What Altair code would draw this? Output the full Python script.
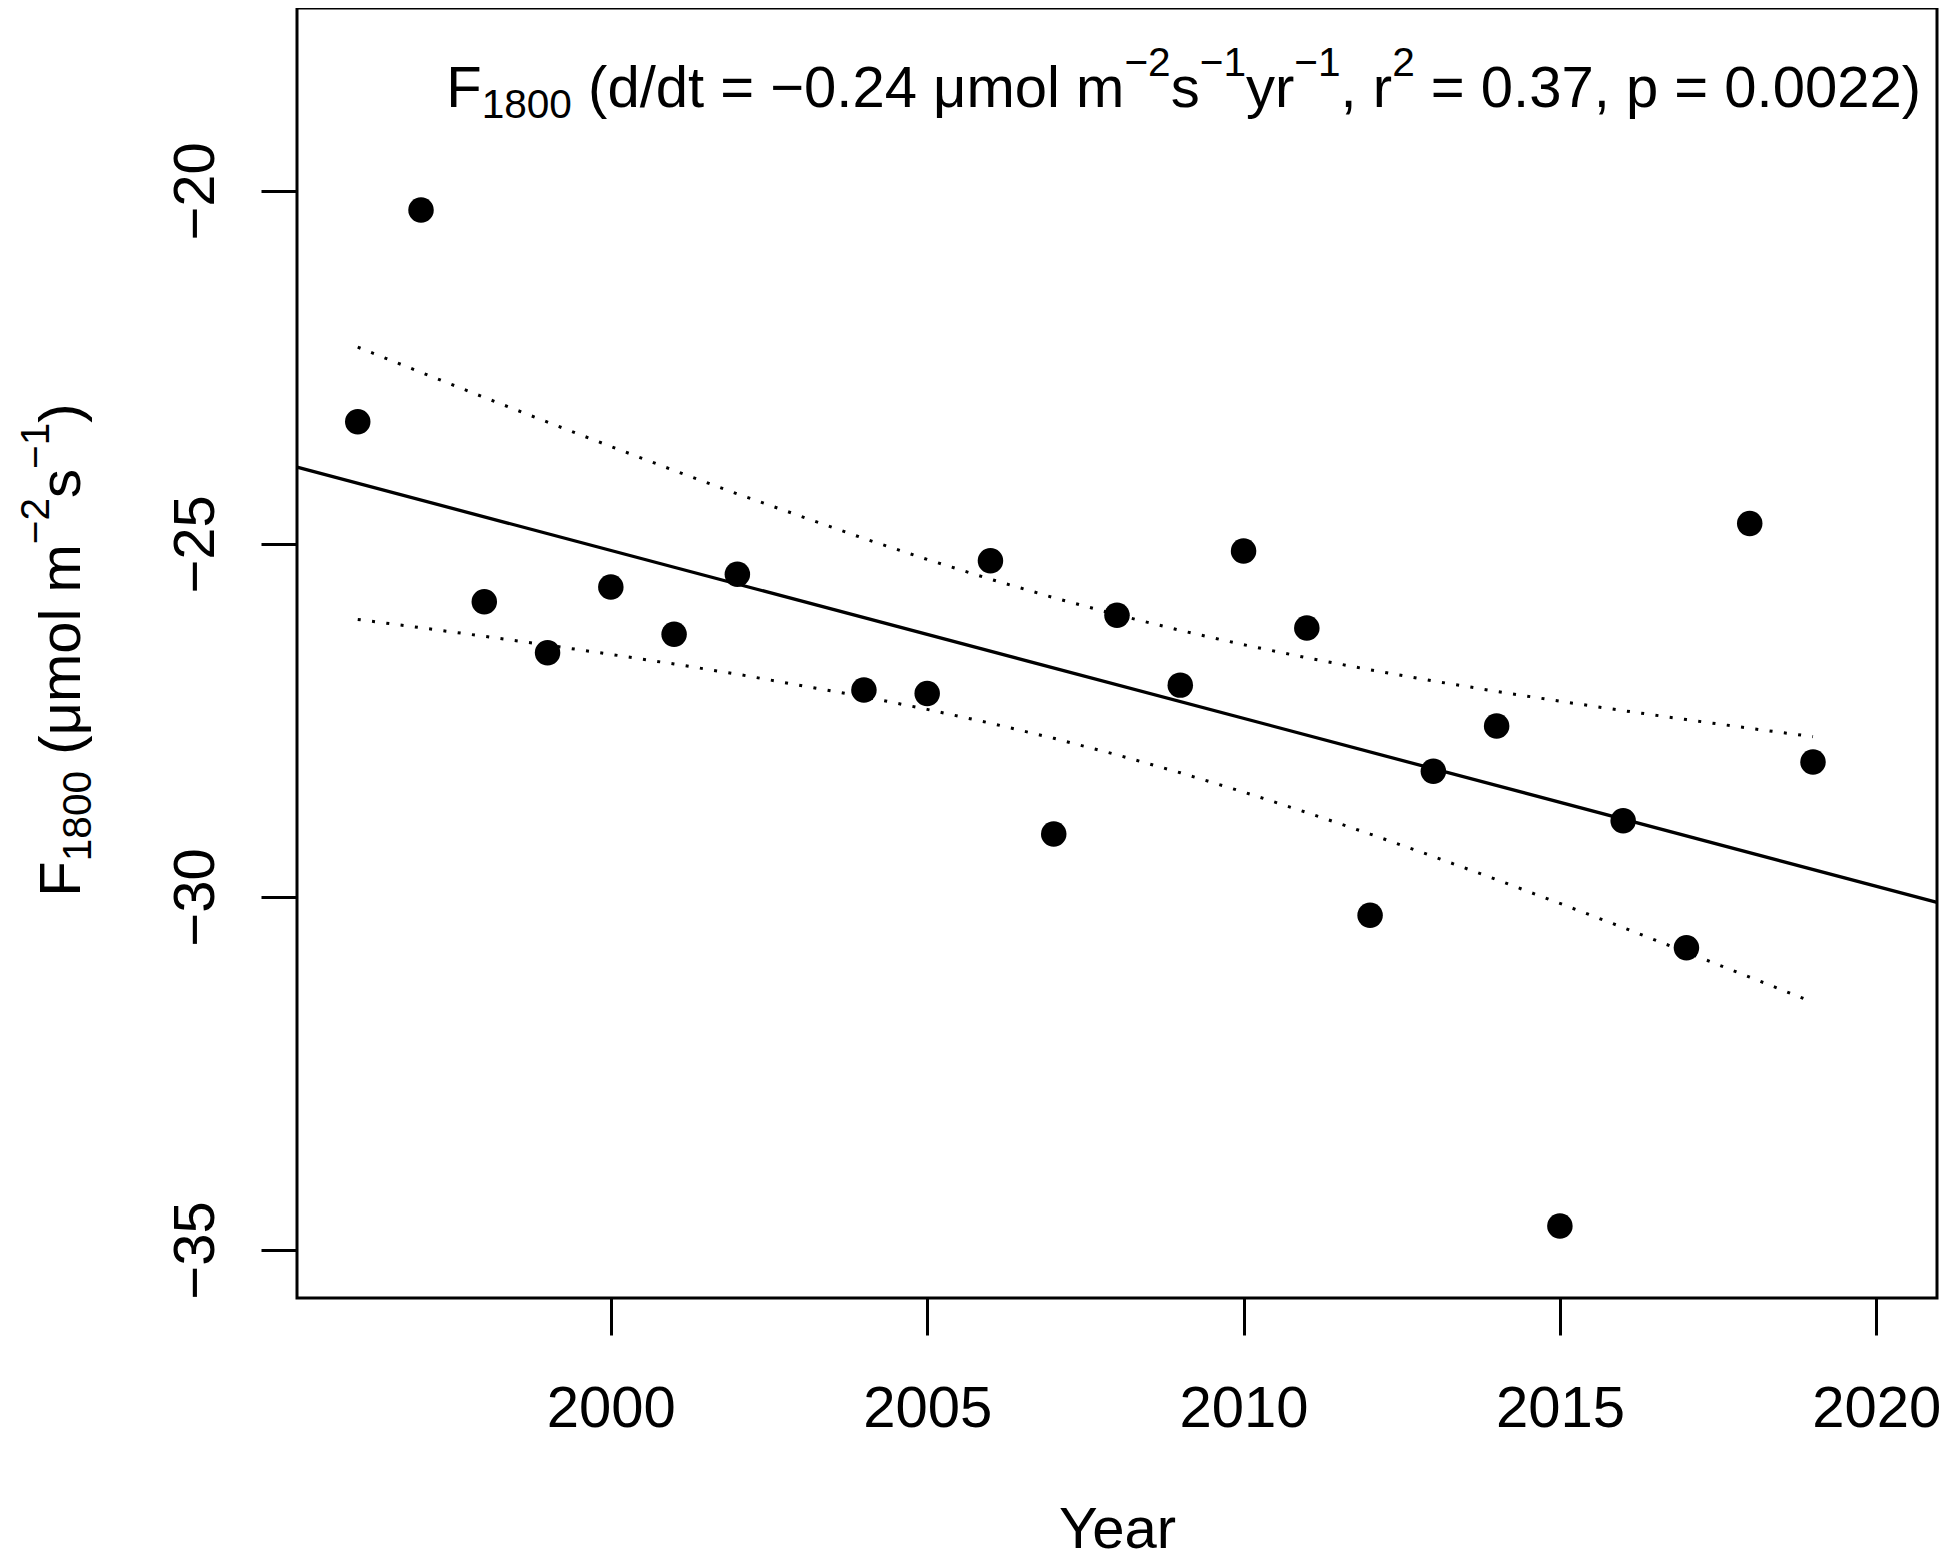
import altair as alt
import pandas as pd
import numpy as np

# ---------------- data ----------------
years = [1996, 1997, 1998, 1999, 2000, 2001, 2002, 2004, 2005, 2006, 2007, 2008,
         2009, 2010, 2011, 2012, 2013, 2014, 2015, 2016, 2017, 2018, 2019]
flux = [-23.27, -20.27, -25.82, -26.54, -25.61, -26.28, -25.43, -27.07, -27.12,
        -25.24, -29.11, -26.01, -27.00, -25.10, -26.19, -30.26, -28.22, -27.58,
        -34.66, -28.92, -30.72, -24.71, -28.09]

x_ticks = [2000, 2005, 2010, 2015, 2020]
y_ticks = [-35, -30, -25, -20]
x_title = "Year"

# rich-text pieces: (kind, text) with kind in normal / sub / sup
annot_parts = [("n", "F"), ("sub", "1800"), ("n", " (d/dt = \u22120.24 \u03bcmol m"),
               ("sup", "\u22122"), ("n", "s"), ("sup", "\u22121"), ("n", "yr"),
               ("sup", "\u22121"), ("n", ", r"), ("sup", "2"),
               ("n", " = 0.37, p = 0.0022)")]
ytitle_parts = [("n", "F"), ("sub", "1800"), ("n", " (\u03bcmol m"), ("sup", "\u22122"),
                ("n", "s"), ("sup", "\u22121"), ("n", ")")]

# ---------------- linear fit and 95% confidence band ----------------
xa = np.array(years, dtype=float)
ya = np.array(flux, dtype=float)
n = len(xa)
xbar, ybar = xa.mean(), ya.mean()
sxx = ((xa - xbar) ** 2).sum()
slope = ((xa - xbar) * (ya - ybar)).sum() / sxx
icpt = ybar - slope * xbar
resid = ya - (icpt + slope * xa)
s = np.sqrt((resid ** 2).sum() / (n - 2))
t975 = 2.0796  # t quantile, 21 df
se = s * np.sqrt(1.0 / n + (xa - xbar) ** 2 / sxx)
fitv = icpt + slope * xa
band_df = pd.concat([
    pd.DataFrame({"year": years, "flux": fitv + t975 * se, "band": "upper"}),
    pd.DataFrame({"year": years, "flux": fitv - t975 * se, "band": "lower"}),
])
pts = pd.DataFrame({"year": years, "flux": flux})

# ---------------- layout / style ----------------
FONT = "Liberation Sans"
FS = 58
SFS = FS * 0.7
W, H = 1640, 1290
XDOM = [1995.04, 2020.96]
YDOM = [-35.68, -17.41]

xenc = alt.X("year:Q",
             scale=alt.Scale(domain=XDOM, nice=False, zero=False),
             axis=alt.Axis(values=x_ticks, format="d", grid=False, domain=False,
                           tickSize=37, tickWidth=3, tickColor="black",
                           labelFont=FONT, labelFontSize=FS, labelColor="black",
                           labelBaseline="alphabetic", labelPadding=91,
                           labelFlush=False, labelOverlap=False,
                           title=x_title, titleFont=FONT, titleFontSize=FS,
                           titleFontWeight="normal", titleColor="black",
                           titleBaseline="alphabetic", titleAlign="center",
                           titleX=W / 2, titleY=249))
yenc = alt.Y("flux:Q",
             scale=alt.Scale(domain=YDOM, nice=False, zero=False),
             axis=alt.Axis(values=y_ticks, grid=False, domain=False,
                           tickSize=36, tickWidth=3, tickColor="black",
                           labelFont=FONT, labelFontSize=FS, labelColor="black",
                           labelAngle=270, labelAlign="center",
                           labelBaseline="alphabetic", labelPadding=48,
                           labelFlush=False, labelOverlap=False,
                           labelExpr="replace(datum.label, '-', '\u2212')",
                           title=None))

band = alt.Chart(band_df).mark_line(
    color="black", strokeWidth=3, strokeDash=[3, 11.4], strokeCap="butt"
).encode(x=xenc, y=yenc, detail="band:N")

fit = alt.Chart(pts).transform_regression(
    "year", "flux", extent=XDOM
).mark_line(color="black", strokeWidth=3.3).encode(x=xenc, y=yenc)

points = alt.Chart(pts).mark_circle(
    size=650, color="black", opacity=1
).encode(x=xenc, y=yenc)

# character advance widths (Arial / Liberation Sans, per 1000 em)
CW = {" ": 278, "(": 333, ")": 333, ",": 278, ".": 278, "/": 278, "=": 584,
      "\u2212": 584, "F": 611, "d": 556, "t": 278, "m": 833, "o": 556, "l": 222,
      "s": 500, "y": 500, "r": 333, "p": 556, "\u03bc": 576}


def seg_w(txt, fs):
    return sum(CW.get(c, 556) for c in txt) / 1000.0 * fs


def size_of(kind):
    return FS if kind == "n" else SFS


def shift_of(kind):
    return {"n": 0.0, "sub": 10.5, "sup": -31.0}[kind]


def split_lead(txt):
    """Leading blanks are dropped by the renderer: turn them into an offset."""
    body = txt.lstrip(" ")
    return txt[: len(txt) - len(body)], body


one = pd.DataFrame({"k": [0]})
texts = []

# top-right annotation (right end near the plot's right edge)
tot = sum(seg_w(t, size_of(k)) for k, t in annot_parts)
cx = 1624 - tot
for k, t in annot_parts:
    fs = size_of(k)
    lead, body = split_lead(t)
    cx += seg_w(lead, fs)
    texts.append(alt.Chart(one).mark_text(
        text=body, font=FONT, fontSize=fs, align="left", baseline="alphabetic",
        color="black").encode(x=alt.value(cx), y=alt.value(99 + shift_of(k))))
    cx += seg_w(body, fs)

# rotated y-axis title, centred on the plot
tot = sum(seg_w(t, size_of(k)) for k, t in ytitle_parts)
cy = 642 + tot / 2
for k, t in ytitle_parts:
    fs = size_of(k)
    lead, body = split_lead(t)
    cy -= seg_w(lead, fs)
    texts.append(alt.Chart(one).mark_text(
        text=body, font=FONT, fontSize=fs, align="left", baseline="alphabetic",
        angle=270, color="black").encode(x=alt.value(-217 + shift_of(k)),
                                         y=alt.value(cy)))
    cy -= seg_w(body, fs)

chart = alt.layer(band, fit, points, *texts).properties(
    width=W, height=H,
    autosize=alt.AutoSizeParams(type="none"),
    padding={"left": 289, "top": 0, "right": 5, "bottom": 262},
    background="white",
).configure(
    font=FONT,
    view=alt.ViewConfig(stroke="black", strokeWidth=3),
)

chart.save("out.html", embed_options={"renderer": "svg", "actions": False})
